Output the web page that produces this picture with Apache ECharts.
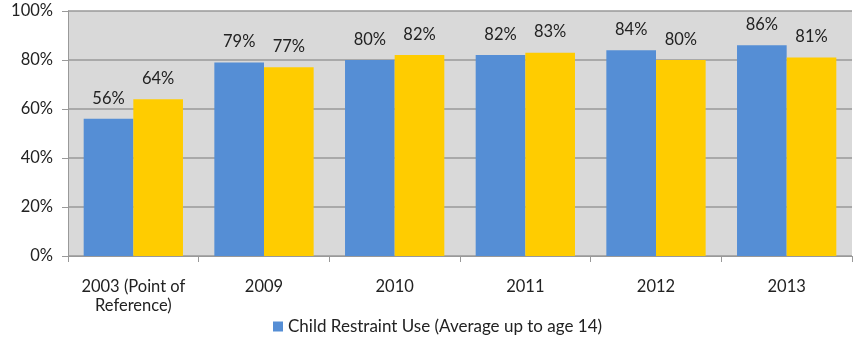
<!DOCTYPE html>
<html><head><meta charset="utf-8">
<script src="https://cdn.jsdelivr.net/npm/echarts@6/dist/echarts.min.js"></script>
<style>html,body{margin:0;padding:0;background:#fff}#c{width:855px;height:338px}</style>
</head><body><div id="c"></div>
<script>
const categories = ['2003 (Point of\nReference)', '2009', '2010', '2011', '2012', '2013'];
const childRestraint = [56, 79, 80, 82, 84, 86];
const secondSeries = [64, 77, 82, 83, 80, 81];
const yTicks = [0, 20, 40, 60, 80, 100];

const font = 'Lato, "Open Sans", sans-serif';
const fs = 16.5;
const chart = echarts.init(document.getElementById('c'));
chart.setOption({
  animation: false,
  textStyle: { fontFamily: font },
  grid: { left: 68, right: 3, top: 11, bottom: 82, show: true, backgroundColor: '#d9d9d9', borderWidth: 0 },
  legend: {
    data: ['Child Restraint Use (Average up to age 14)'],
    left: 268, top: 313, itemWidth: 10, itemHeight: 10, itemGap: 5,
    icon: 'rect',
    textStyle: { fontSize: 17, color: '#222', fontFamily: font }
  },
  xAxis: {
    type: 'category', data: categories,
    axisLine: { lineStyle: { color: '#999' } },
    axisTick: { show: true, length: 6, lineStyle: { color: '#999' }, alignWithLabel: false },
    axisLabel: { interval: 0, fontSize: fs, color: '#222', margin: 21, lineHeight: 19, fontFamily: font }
  },
  yAxis: {
    type: 'value', min: yTicks[0], max: yTicks[yTicks.length - 1], interval: 20,
    axisLine: { show: true, lineStyle: { color: '#999' } },
    axisTick: { show: true, length: 6, lineStyle: { color: '#999' } },
    splitLine: { lineStyle: { color: '#999', width: 1.5 } },
    axisLabel: { fontSize: fs, color: '#222', margin: 15, formatter: v => v + '%', fontFamily: font }
  },
  series: [
    {
      name: 'Child Restraint Use (Average up to age 14)', type: 'bar', data: childRestraint,
      itemStyle: { color: '#558ED5' }, barGap: '0%', barCategoryGap: '24%',
      label: { show: true, position: 'top', distance: 12, fontSize: fs, color: '#222', formatter: p => p.value + '%', fontFamily: font }
    },
    {
      name: 'Series 2', type: 'bar', data: secondSeries,
      itemStyle: { color: '#FFCC00' }, barGap: '0%', barCategoryGap: '24%',
      label: { show: true, position: 'top', distance: 12, fontSize: fs, color: '#222', formatter: p => p.value + '%', fontFamily: font }
    }
  ]
});
</script></body></html>
